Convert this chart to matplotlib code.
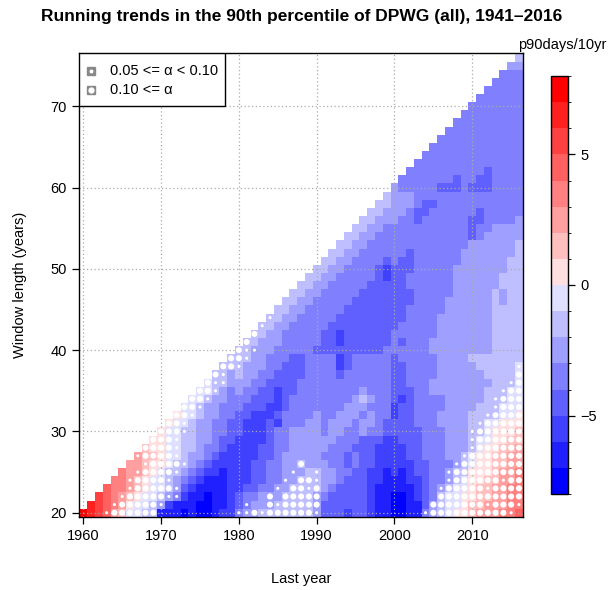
import numpy as np
import matplotlib
matplotlib.use("Agg")
import matplotlib.pyplot as plt
from matplotlib.colors import ListedColormap, BoundaryNorm
from matplotlib.patches import Rectangle

plt.rcParams['font.family'] = ['Liberation Sans', 'DejaVu Sans']

first_window = 20
last_year = 2016
start_year = 1941
x_ticks = [1960, 1970, 1980, 1990, 2000, 2010]
y_ticks = [20, 30, 40, 50, 60, 70]
cbar_ticks = [-5, 0, 5]

# trend class per cell (a = -7.5 ... p = +7.5 p90days/10yr), one string per window length,
# first character = first possible last year for that window
level_codes = "abcdefghijklmnop"
level_values = [-7.5, -6.5, -5.5, -4.5, -3.5, -2.5, -1.5, -0.5,
                0.5, 1.5, 2.5, 3.5, 4.5, 5.5, 6.5, 7.5]

trend_rows = [
    "ponmkjhhgg" "bbbabaabcc" "effggggggg" "fdddcddcbb" "aabbefghii" "jkkkllm",
    "onmlkihhg" "fcbbbaabbc" "defffggggg" "fddddddcbb" "aabbdfghhi" "jjkkkll",
    "nmlkjihh" "gfecbbabbc" "deefffgggg" "fedddddcbb" "aabcdeghhi" "ijjkkll",
    "mllkjih" "hgfdcbbbbc" "cddeeffggg" "gfeddddcbb" "bbbcdefghh" "ijjkkll",
    "llkjih" "hgfedcbbbc" "ccddeeffgg" "gffedddccb" "bbccdeefgh" "iijjkkl",
    "lkkji" "hggfedccbc" "ccddeefffg" "gffeeddccb" "cbcddeefgg" "iiijkkl",
    "kkji" "ihggfedccc" "ccddeeffgf" "ffeededdcc" "cccddeeefg" "hiijjkk",
    "kjj" "ihhgffedcc" "cccddeffff" "feeededdcc" "ccddeeeffg" "hiijjkk",
    "ji" "ihhggfeedc" "cccddeefff" "ffeeedddcc" "ccddeeefff" "ghiijjk",
    "i" "ihhggffedd" "ccccdeefff" "fffeeedddc" "cdddeeefff" "ghhiijj",
    "ihhggffeed" "dcccdeefff" "feffeefeed" "ddddeeefff" "gghiiij",
    "ihhgffeed" "dcccdceeef" "fefffeffed" "dddeeeffff" "gghhiii",
    "ihhgffee" "ddcccdeeee" "feefffefee" "cddeeeffff" "gggghhi",
    "hhgffee" "edddccdeee" "eeeefffeee" "cddeeeefff" "fggghhh",
    "hhgffe" "eedddcdeee" "eeeeefgfee" "dcdeeeefff" "ffggghh",
    "hhgfe" "feeddcddee" "eeeeeefeee" "dddeefffff" "ffggghh",
    "hggf" "ffeeddddee" "eeeeeeeeee" "ddeeefffff" "fffgggh",
    "ggf" "gffeedddde" "eeedeeeeee" "ddeeeeffff" "ffggggh",
    "gg" "gfffeeddde" "eeecdeeeee" "ddeeeeffff" "fgggggh",
    "g" "ggffeeedde" "eeecdeeeee" "deeeeeffff" "ggggggg",
    "ggfffeeeee" "ddddddddde" "eeeeefffff" "fffgggg",
    "ggfffeeee" "eddcdddddd" "edeeefffff" "fffgggg",
    "ggffeeee" "eddcdddddd" "eeeeeeffff" "fffgggg",
    "ggffeee" "eedddddddd" "deeeeeffff" "fffgggg",
    "ggffee" "eeeddddddd" "ddeeeeffff" "fffgggg",
    "ggffe" "eeeedddddd" "ddeeeeefff" "fffgggg",
    "ggff" "eeeeeddddd" "dddeeeefff" "fffgfgg",
    "ggf" "feeeeedddd" "dddeeeeeff" "fffgfgg",
    "gg" "ffeeeeeddd" "ddeeeeeeff" "ffffggg",
    "g" "gffeeeeedc" "ddeeeeeeff" "ffffggg",
    "ggffeeeedc" "dddeeeeeff" "fffffgg",
    "ggffeeeed" "eddeeeeeef" "fffffgg",
    "ggffeeee" "eedeeeeeef" "ffffffg",
    "ggffeee" "eeeeeeeeee" "ffffffg",
    "ggffee" "eeeeeeeeee" "defffff",
    "ggffe" "eeeeeeeeee" "deeffff",
    "ggff" "feedeeeeee" "ddeeeef",
    "ggf" "ffeddeeeee" "edeeeee",
    "gg" "fffeddeeee" "eeeeeee",
    "g" "fffeeeeeee" "eeeeeee",
    "feeeeeddde" "dddeeee",
    "eeeeeeede" "eddeeee",
    "eeeeeeee" "eedeeee",
    "eeeeeeeeeeeeee",
    "eeeeeeeeeeeee",
    "eeeeeeeeeeee",
    "eeeeeeeeeee",
    "eeeeeeeeee",
    "eeeeeeeee",
    "eeeeeeee",
    "eeeeeee",
    "eeeeee",
    "eeeee",
    "eeee",
    "eee",
    "ff",
    "g",
]

# p-value class per cell: '.' p < 0.05, 's' 0.05 <= p < 0.10, 'b' p >= 0.10
signif_rows = [
    "...sbbbbbb" ".........." "ssbsbbbbbb" "s........." "....sbbbbb" "bbbbbs.",
    "...sbbbbb" "s........." ".s..bsbbbb" "b........." ".....bbbbb" "bbsbbbs",
    "...sbbbb" "bss......." "....b.bbbb" "b........." "......bbbb" "bbbbbbb",
    "...sbbb" "bbs......." ".....s.bbs" "b........." "......sbbb" "bbsbbbb",
    "..sbbb" "bs........" "......s.bb" "s........." ".......sbb" "bbbbsbb",
    "..sbb" "bbs......." ".......s.." "s........." ".......sbb" "bbbbbbb",
    "..sb" "bbbs......" "........b." ".........." "........sb" "bbbbbbb",
    "sbb" "bbs......." ".........." ".........." ".........s" "bbbbbbb",
    "bb" "bbs......." ".........." ".........." ".........." "sbbbbbb",
    "b" "bbs......." ".........." ".........." ".........." "sbbbbbb",
    "bbbs......" ".........." ".........." ".........." "sbbbbbb",
    "bbs......" ".........." ".........." ".........." ".sbbbbb",
    "bbs....." ".........." ".........." ".........." "..sbbbb",
    "bbs...." ".........." ".........." ".........." "...sbbb",
    "bbs..." ".........." ".........." ".........." "...sbbb",
    "bbs.." ".........." ".........." ".........." "....sbb",
    "bss." ".........." ".........." ".........." ".....sb",
    "bs." ".........." ".........." ".........." "......b",
    "bb" "s........." ".........." ".........." "......s",
    "b" "bs........" ".........." ".........." ".......",
    "bss",
    "b",
    "b",
    "s",
    "s",
]

years = np.arange(start_year + first_window - 1, last_year + 1)
windows = np.arange(first_window, first_window + len(trend_rows))

trend = np.full((len(windows), len(years)), np.nan)
small_x, small_y, big_x, big_y = [], [], [], []
for r, w in enumerate(windows):
    y0 = start_year + w - 1
    row = trend_rows[r]
    if len(row) != last_year - y0 + 1:
        raise ValueError(f"row {w}: {len(row)} cells, expected {last_year - y0 + 1}")
    for k, ch in enumerate(row):
        trend[r, y0 - years[0] + k] = level_values[level_codes.index(ch)]
    if r < len(signif_rows):
        for k, ch in enumerate(signif_rows[r]):
            if ch == 's':
                small_x.append(y0 + k); small_y.append(w)
            elif ch == 'b':
                big_x.append(y0 + k); big_y.append(w)

# blue -> white -> red in 16 steps, white itself left out
cols = [(i / 8, i / 8, 1.0) for i in range(8)] + [(1.0, (7 - j) / 8, (7 - j) / 8) for j in range(8)]
cmap = ListedColormap(cols)
norm = BoundaryNorm(np.arange(-8, 9), cmap.N)

fig = plt.figure(figsize=(6.08, 5.90), dpi=100)
ax = fig.add_axes([79.4 / 608, 1 - 516.8 / 590, 443.4 / 608, 463.4 / 590])

xe = np.arange(years[0] - 0.5, years[-1] + 1.0)
ye = np.arange(windows[0] - 0.5, windows[-1] + 1.0)
mesh = ax.pcolormesh(xe, ye, np.ma.masked_invalid(trend), cmap=cmap, norm=norm,
                     linewidth=0, antialiased=False, zorder=1)

ax.scatter(big_x, big_y, s=19, c='white', edgecolors='none', zorder=3)
ax.scatter(small_x, small_y, s=5, c='white', edgecolors='none', zorder=3)

for xt in x_ticks:
    ax.axvline(xt, color='#aaaaaa', ls=(0, (1, 2)), lw=0.9, zorder=2)
for yt in y_ticks:
    ax.axhline(yt, color='#aaaaaa', ls=(0, (1, 2)), lw=0.9, zorder=2)

ax.set_xlim(xe[0], xe[-1])
ax.set_ylim(ye[0], ye[-1])
ax.set_xticks(x_ticks)
ax.set_yticks(y_ticks)
ax.tick_params(direction='out', length=5, width=0.9, labelsize=10.5, pad=4)
for sp in ax.spines.values():
    sp.set_linewidth(1.0)
ax.set_xlabel("Last year", fontsize=10.5, labelpad=21)
ax.set_ylabel("Window length (years)", fontsize=10.5, labelpad=17)

# significance key in the top-left corner
ax.add_patch(Rectangle((0, 0.8865), 0.328, 0.1135, transform=ax.transAxes,
                       facecolor='white', edgecolor='black', lw=1.0, zorder=5))
ax.plot([0.026], [0.962], marker='s', ms=6.2, color='#888888', transform=ax.transAxes, zorder=6)
ax.plot([0.026], [0.962], marker='o', ms=1.8, color='white', transform=ax.transAxes, zorder=7)
ax.plot([0.026], [0.922], marker='s', ms=6.2, color='#888888', transform=ax.transAxes, zorder=6)
ax.plot([0.026], [0.922], marker='o', ms=3.5, color='white', transform=ax.transAxes, zorder=7)
ax.text(0.069, 0.962, "0.05 <= \u03b1 < 0.10", transform=ax.transAxes, fontsize=10.5,
        va='center', ha='left', zorder=7)
ax.text(0.069, 0.922, "0.10 <= \u03b1", transform=ax.transAxes, fontsize=10.5,
        va='center', ha='left', zorder=7)

cax = fig.add_axes([551 / 608, 1 - 494 / 590, 17 / 608, 418 / 590])
cb = fig.colorbar(mesh, cax=cax, ticks=cbar_ticks)
cb.outline.set_linewidth(1.0)
cax.tick_params(direction='out', length=5, width=0.9, labelsize=10.5, pad=4)

fig.text(518 / 608, 1 - 45 / 590, "p90days/10yr", fontsize=10.5, ha='left', va='center')
fig.text(302 / 608, 1 - 17 / 590,
         "Running trends in the 90th percentile of DPWG (all), 1941\u20132016",
         fontsize=12.5, fontweight='bold', ha='center', va='center')

fig.savefig("out.png", dpi=100)
